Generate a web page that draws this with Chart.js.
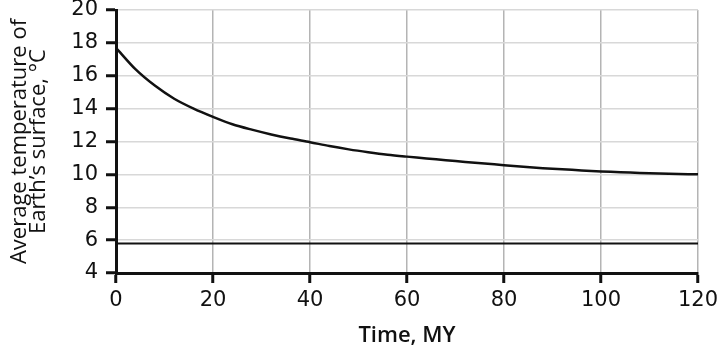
<!DOCTYPE html>
<html>
<head>
<meta charset="utf-8">
<script src="https://cdn.jsdelivr.net/npm/chart.js@4"></script>
<style>
  html, body { margin: 0; padding: 0; background: #fff; }
  #wrap { width: 720px; height: 349px; }
</style>
</head>
<body>
<div id="wrap"><canvas id="tempChart" width="720" height="349"></canvas></div>
<script>
// time in millions of years
const timeMY = [0,4,8,12,16,20,24,28,32,36,40,44,48,52,56,60,64,68,72,76,80,84,88,92,96,100,104,108,112,116,120];
// average surface temperature, °C
const avgTemp = [17.7,16.4,15.4,14.6,14.0,13.5,13.05,12.72,12.43,12.18,11.96,11.72,11.52,11.35,11.2,11.08,10.97,10.86,10.76,10.66,10.56,10.47,10.38,10.31,10.24,10.18,10.13,10.09,10.05,10.02,10.0];
// flat reference line
const refX = [0,120];
const refY = [5.8,5.8];
const yTitle = ['Average temperature of', 'Earth\u2019s surface, \u00b0C'];
const xTitle = 'Time, MY';

const toPoints = (xs, ys) => xs.map((x, i) => ({ x: x, y: ys[i] }));

const ctx = document.getElementById('tempChart').getContext('2d');
const tickFont = { family: 'DejaVu Sans', size: 21 };

new Chart(ctx, {
    type: 'line',
    data: {
        datasets: [
            { data: toPoints(timeMY, avgTemp), borderColor: '#111', borderWidth: 2.5, pointRadius: 0, tension: 0.3, fill: false },
            { data: toPoints(refX, refY), borderColor: '#111', borderWidth: 2, pointRadius: 0, fill: false }
        ]
    },
    options: {
        responsive: false,
        animation: false,
        layout: { padding: { left: 0, right: 22, top: 10, bottom: 0 } },
        plugins: { legend: { display: false }, tooltip: { enabled: false } },
        scales: {
            x: {
                type: 'linear',
                min: 0, max: 120,
                ticks: { stepSize: 20, color: '#111', font: tickFont, padding: 5, maxRotation: 0 },
                grid: { color: '#b4b4b4', lineWidth: 1.5, tickLength: 10, tickColor: '#111', tickWidth: 3 },
                border: { color: '#111', width: 3 },
                title: { display: true, text: xTitle, color: '#111', font: { family: 'Open Sans', size: 22, weight: '600' }, padding: { top: 0, bottom: 0 } },
                afterFit: s => { s.height = 76; s.paddingLeft = 0; s.paddingRight = 0; }
            },
            y: {
                min: 4, max: 20,
                ticks: { stepSize: 2, color: '#111', font: tickFont, padding: 8 },
                grid: { color: '#d8d8d8', lineWidth: 1.5, tickLength: 10, tickColor: '#111', tickWidth: 3 },
                border: { color: '#111', width: 3 },
                title: { display: true, text: yTitle, color: '#111', font: { family: 'Open Sans', size: 22, lineHeight: 0.88 }, padding: { top: 10, bottom: 0 } },
                afterFit: s => { s.width = 116; s.paddingTop = 0; s.paddingBottom = 0; }
            }
        }
    }
});
</script>
</body>
</html>
